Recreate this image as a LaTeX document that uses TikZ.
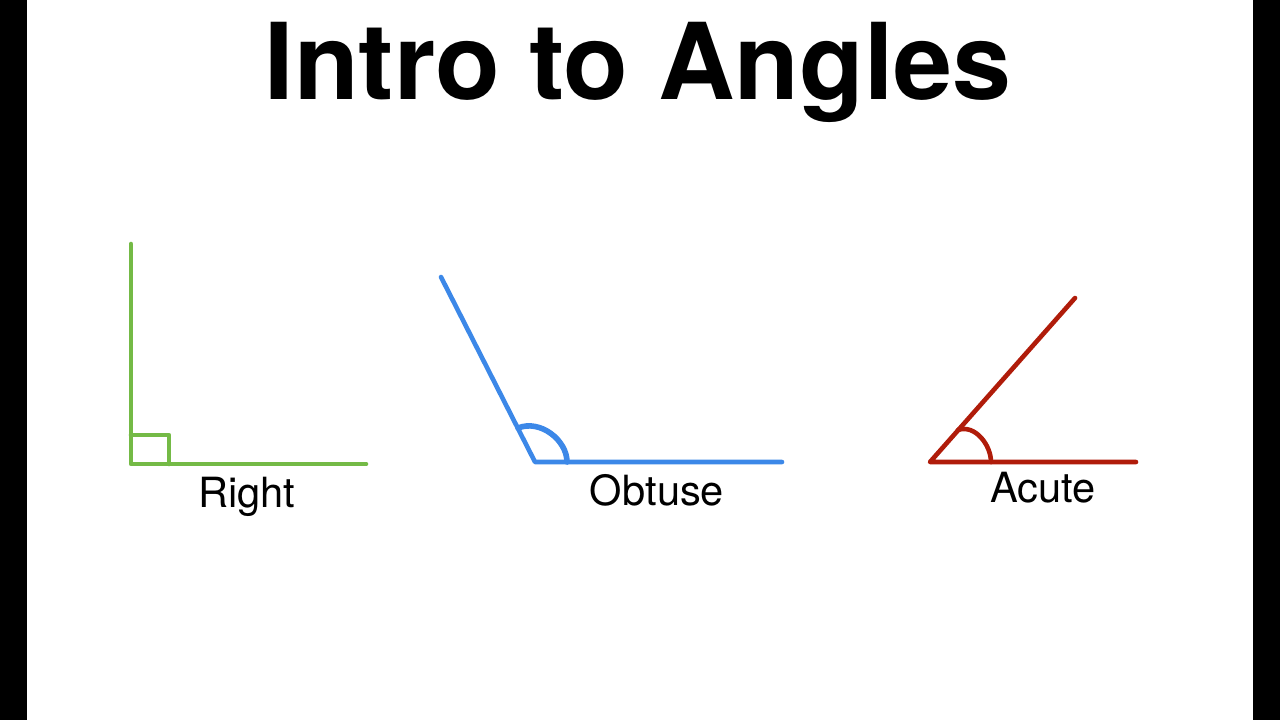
\documentclass[tikz,border=0pt]{standalone}
\usepackage{fontspec}
\setmainfont{TeX Gyre Heros}
\usepackage{tikz}
\usetikzlibrary{calc}
\definecolor{rightgreen}{RGB}{116,186,70}
\definecolor{obtuseblue}{RGB}{60,136,232}
\definecolor{acutered}{RGB}{176,28,10}
\tikzstyle{rightline}=[rightgreen, line width=2.3pt, line cap=round, line join=round]
\tikzstyle{obtuseline}=[obtuseblue, line width=2.3pt, line cap=round, line join=round]
\tikzstyle{acuteline}=[acutered, line width=2.3pt, line cap=round, line join=round]
\tikzstyle{anglelabel}=[black, inner sep=0pt, anchor=base, font=\fontsize{20.8}{24}\selectfont]

\begin{document}
\begin{tikzpicture}[x=0.5pt, y=-0.5pt]
\useasboundingbox (0,0) rectangle (1280,720);
\fill[white] (0,0) rectangle (1280,720);
\fill[black] (0,0) rectangle (27,720);
\fill[black] (1253,0) rectangle (1280,720);

\node [black, inner sep=0pt, anchor=base, font=\fontsize{53}{60}\selectfont\bfseries] (title) at (638,99) {Intro to Angles};

\coordinate (rightvertex) at (131,464);
\coordinate (righttop) at (131,244);
\coordinate (rightend) at (366,464);
\coordinate (obtusevertex) at (535,462);
\coordinate (obtusetop) at (441,277);
\coordinate (obtuseend) at (782,462);
\coordinate (acutevertex) at (930,462);
\coordinate (acutetop) at (1075,298);
\coordinate (acuteend) at (1136,462);

\draw[rightline] (righttop) -- (rightvertex) -- (rightend);
\draw[rightline] ($(rightvertex)+(0,-29)$) -| ($(rightvertex)+(38,0)$);
\draw[obtuseline] (obtusetop) -- (obtusevertex) -- (obtuseend);
\draw[obtuseline, line width=2.8pt] (518,428) .. controls (540,419) and (567,440) .. (567,462);
\draw[acuteline] (acutetop) -- (acutevertex) -- (acuteend);
\draw[acuteline] (958,430) .. controls (975,424) and (991,445) .. (991,462);

\node [anglelabel] (rightlabel) at (247,507) {Right};
\node [anglelabel] (obtuselabel) at (657,505) {Obtuse};
\node [anglelabel] (acutelabel) at (1043,502) {Acute};
\end{tikzpicture}
\end{document}
